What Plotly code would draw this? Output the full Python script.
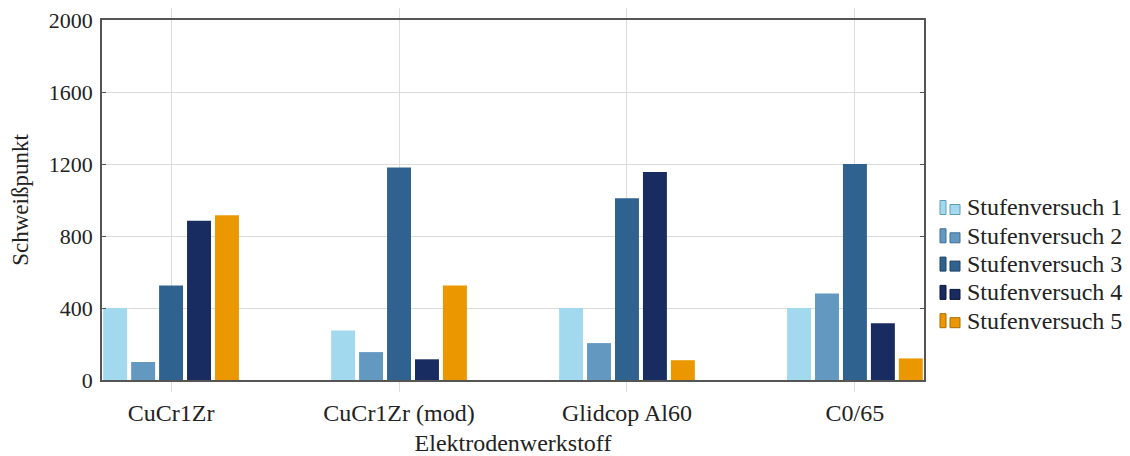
import plotly.graph_objects as go

# Electrode materials and weld-spot counts per step test
werkstoffe = ["CuCr1Zr", "CuCr1Zr (mod)", "Glidcop Al60", "C0/65"]
serien = ["Stufenversuch 1", "Stufenversuch 2", "Stufenversuch 3",
          "Stufenversuch 4", "Stufenversuch 5"]
stufe1 = [400, 275, 400, 400]
stufe2 = [100, 155, 205, 480]
stufe3 = [525, 1180, 1010, 1200]
stufe4 = [885, 115, 1155, 315]
stufe5 = [915, 525, 110, 120]
y_ticks = [0, 400, 800, 1200, 1600, 2000]

werte = [stufe1, stufe2, stufe3, stufe4, stufe5]
farben = ["#a2d9ee", "#6398c1", "#30628f", "#192c61", "#eb9800"]
kanten = ["#5f9db5", "#3c6f95", "#1d4268", "#0c1638", "#a86c00"]

FONT = "Liberation Serif"
W, H = 1130, 456
ML, MR, MT, MB = 102, 206, 20, 76
PW, PH = W - ML - MR, H - MT - MB


def px_x(px):
    return (px - ML) / PW


def px_y(py):
    return (H - MB - py) / PH


fig = go.Figure()
for name, vals, col in zip(serien, werte, farben):
    fig.add_trace(go.Bar(
        x=list(range(len(werkstoffe))), y=vals, name=name,
        marker=dict(color=col, line=dict(width=0)),
        showlegend=False,
    ))

# Legend drawn by hand: two small swatches followed by the series name
shapes, annotations = [], []
for i, (name, col, edge) in enumerate(zip(serien, farben, kanten)):
    base = 214.5 + i * 28.3
    shapes.append(dict(type="rect", xref="paper", yref="paper",
                       x0=px_x(940), x1=px_x(946), y0=px_y(base), y1=px_y(base - 14),
                       fillcolor=col, line=dict(color=edge, width=1)))
    shapes.append(dict(type="rect", xref="paper", yref="paper",
                       x0=px_x(950), x1=px_x(960), y0=px_y(base), y1=px_y(base - 10),
                       fillcolor=col, line=dict(color=edge, width=1)))
    annotations.append(dict(text=name, xref="paper", yref="paper",
                            x=px_x(965), y=px_y(base - 7), xanchor="left", yanchor="middle",
                            showarrow=False, font=dict(family=FONT, size=24, color="#222")))

fig.update_layout(
    width=W, height=H,
    margin=dict(l=ML, r=MR, t=MT, b=MB, autoexpand=False),
    paper_bgcolor="white", plot_bgcolor="white",
    barmode="group", bargap=0.387, bargroupgap=0.143,
    font=dict(family=FONT, size=22, color="#222"),
    showlegend=False,
    shapes=shapes, annotations=annotations,
)

fig.update_xaxes(
    range=[-0.303, 3.303], automargin=False,
    tickmode="array", tickvals=list(range(len(werkstoffe))), ticktext=werkstoffe,
    showgrid=True, gridcolor="#dcdcdc", gridwidth=1,
    ticks="outside", ticklen=10, tickcolor="#dcdcdc", mirror="ticks",
    showline=True, linecolor="#555", linewidth=1.5,
    zeroline=False,
    tickfont=dict(family=FONT, size=24),
    title=dict(text="Elektrodenwerkstoff", font=dict(family=FONT, size=24), standoff=12),
)
fig.update_yaxes(
    range=[0, 2000], automargin=False,
    tickmode="array", tickvals=y_ticks, ticktext=[str(v) for v in y_ticks],
    showgrid=True, gridcolor="#dcdcdc", gridwidth=1,
    ticks="inside", ticklen=4, tickcolor="#555", mirror="ticks",
    showline=True, linecolor="#555", linewidth=1.5,
    zeroline=False, ticklabelstandoff=3,
    tickfont=dict(family=FONT, size=22),
    title=dict(text="Schweißpunkt", font=dict(family=FONT, size=23), standoff=14),
)

fig.write_html("out.html")
